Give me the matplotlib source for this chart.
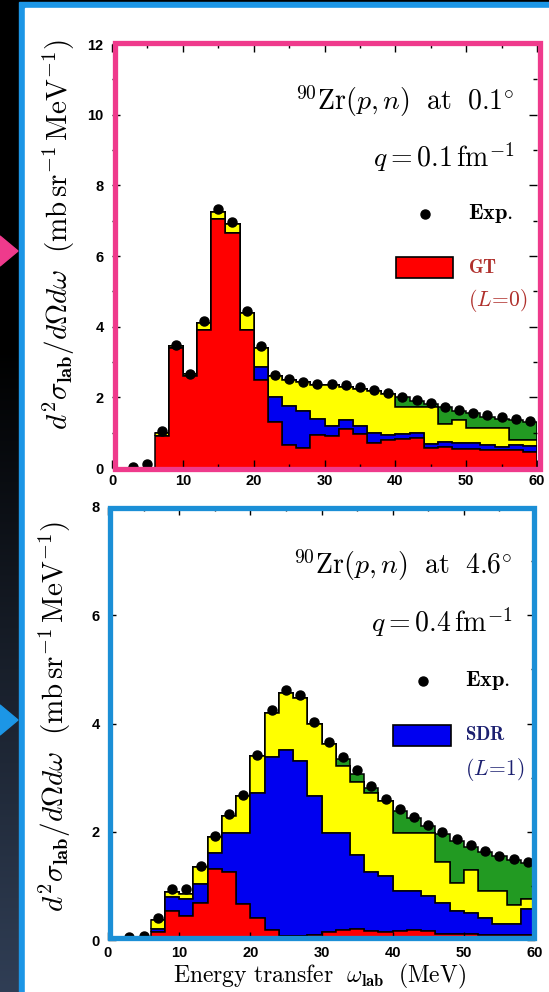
import numpy as np
import matplotlib.pyplot as plt
from matplotlib.patches import Rectangle, Polygon

plt.rcParams['mathtext.fontset'] = 'cm'
plt.rcParams['font.family'] = 'Liberation Sans'
plt.rcParams['font.weight'] = 'bold'

W, H = 549, 992

# histogram bins (MeV), 2 MeV wide from 6 to 60
edges = np.arange(6, 62, 2)
exp_x = np.arange(3, 61, 2)

# 0.1 deg panel: components stacked GT / SDR / other / quasi-free
gt_01 = [0.9, 3.4, 2.6, 3.9, 7.05, 6.65, 3.9, 2.5, 1.3, 0.65, 0.58, 0.92, 0.9, 1.1,
         0.95, 0.72, 0.8, 0.82, 0.85, 0.56, 0.6, 0.55, 0.55, 0.5, 0.5, 0.5, 0.45]
sdr_01 = [0, 0, 0, 0, 0, 0, 0, 0.35, 0.7, 1.1, 1.02, 0.48, 0.28, 0.26,
          0.25, 0.26, 0.13, 0.13, 0.15, 0.11, 0.15, 0.15, 0.15, 0.15, 0.1, 0.15, 0.17]
oth_01 = [0.1, 0.05, 0.05, 0.2, 0.2, 0.25, 0.5, 0.55, 0.6, 0.75, 0.82, 0.96, 1.17, 0.94,
          1.05, 1.2, 1.17, 0.79, 0.74, 1.07, 0.5, 0.65, 0.43, 0.48, 0.53, 0.15, 0.18]
qf_01 = [0, 0, 0, 0, 0, 0, 0, 0, 0, 0, 0, 0, 0, 0,
         0, 0, 0, 0.26, 0.16, 0.06, 0.47, 0.25, 0.42, 0.32, 0.27, 0.55, 0.5]
exp_01 = [0.02, 0.12, 1.05, 3.48, 2.67, 4.15, 7.32, 6.95, 4.45, 3.45, 2.62, 2.52, 2.43,
          2.37, 2.37, 2.35, 2.28, 2.22, 2.13, 2.02, 1.93, 1.83, 1.73, 1.65, 1.57,
          1.5, 1.45, 1.4, 1.32]

# 4.6 deg panel
gt_46 = [0.15, 0.53, 0.45, 0.69, 1.31, 1.25, 0.66, 0.41, 0.19, 0.08, 0.08, 0.1, 0.15, 0.18,
         0.2, 0.16, 0.14, 0.16, 0.18, 0.16, 0.12, 0.12, 0.12, 0.1, 0.1, 0.1, 0.1]
sdr_46 = [0.05, 0.27, 0.31, 0.34, 0.29, 0.72, 1.31, 2.31, 3.2, 3.43, 3.23, 2.56, 1.82, 1.79,
          1.37, 1.09, 1.05, 0.74, 0.72, 0.66, 0.57, 0.41, 0.38, 0.3, 0.2, 0.2, 0.47]
oth_46 = [0.17, 0.08, 0.09, 0.31, 0.3, 0.33, 0.69, 0.68, 0.81, 1.05, 1.16, 1.34, 1.66, 1.25,
          1.35, 1.47, 1.37, 1.07, 1.07, 1.15, 0.75, 0.52, 0.8, 0.5, 0.6, 0.35, 0.18]
qf_46 = [0, 0, 0, 0, 0, 0, 0, 0, 0, 0, 0, 0, 0, 0.12,
         0.14, 0.09, 0, 0.41, 0.28, 0.13, 0.52, 0.77, 0.42, 0.72, 0.65, 0.83, 0.67]
exp_46 = [0.05, 0.08, 0.41, 0.95, 0.95, 1.37, 1.93, 2.33, 2.68, 3.42, 4.25, 4.62, 4.52,
          4.02, 3.66, 3.38, 3.14, 2.85, 2.6, 2.42, 2.28, 2.13, 2.0, 1.86, 1.75, 1.64,
          1.56, 1.5, 1.45]

RED, BLUE, YELLOW, GREEN = '#ff0000', '#0000f0', '#ffff00', '#229a22'


def px(x0, y0, x1, y1):
    return [x0 / W, 1 - y1 / H, (x1 - x0) / W, (y1 - y0) / H]


fig = plt.figure(figsize=(W / 100, H / 100), dpi=100)

# background, frame and arrows in pixel coordinates
bg = fig.add_axes([0, 0, 1, 1])
bg.set_xlim(0, W)
bg.set_ylim(H, 0)
bg.axis('off')
grad = np.clip((np.linspace(0, 1, H) - 0.35) / 0.65, 0, 1)[:, None, None]
top_c = np.array([0, 0, 0])
bot_c = np.array([0x30, 0x3e, 0x55]) / 255
bg.imshow(top_c + grad * (bot_c - top_c), extent=(0, W, H, 0), aspect='auto')
bg.add_patch(Rectangle((19, 2), W, H, color='#1c96e6'))
bg.add_patch(Rectangle((25, 8), W, H, color='white'))
bg.add_patch(Polygon([(0, 236), (18, 251), (0, 266)], color='#ef3a8c'))
bg.add_patch(Polygon([(0, 705), (18, 720), (0, 735)], color='#1c96e6'))


def panel(rect, gt, sdr, oth, qf, exp, ymax, title, qtext, name, lbl, box, lcol, ylab_y):
    ax = fig.add_axes(rect)
    layers = np.cumsum([gt, sdr, oth, qf], axis=0)
    bases = [np.zeros(len(gt)), layers[0], layers[1], layers[2]]
    for top, base, col in list(zip(layers, bases, [RED, BLUE, YELLOW, GREEN]))[::-1]:
        ax.stairs(top, edges, baseline=base, fill=True, facecolor=col,
                  edgecolor='black', lw=1.1)
    ax.plot(exp_x, exp, 'o', color='black', ms=6.5, zorder=5)
    ax.set_xlim(0, 60)
    ax.set_ylim(0, ymax)
    ax.set_xticks(range(0, 61, 10))
    ax.set_xticks(range(5, 60, 10), minor=True)
    ax.set_yticks(range(0, ymax + 1, 2))
    ax.set_yticks(range(1, ymax, 2), minor=True)
    ax.tick_params(which='both', direction='in', top=True, right=True, width=1,
                   labelsize=10.5, pad=6)
    ax.tick_params(axis='x', which='both', pad=4)
    ax.tick_params(which='major', length=6)
    ax.tick_params(which='minor', length=3)
    for s in ax.spines.values():
        s.set_visible(False)
    u = ymax / 12
    ax.text(56.8, ymax - 1.62 * u, title, ha='right', va='center', fontsize=20)
    ax.text(56.8, ymax - 3.2 * u, qtext, ha='right', va='center', fontsize=20)
    ax.plot([44.2], [ymax - 4.81 * u], 'o', color='black', ms=6.5)
    ax.text(50.2, ymax - 4.81 * u, r'$\mathbf{Exp.}$', ha='left', va='center', fontsize=16)
    lrect_y = ymax - 6.33 * u
    ax.add_patch(Rectangle((40.1, lrect_y - 0.3 * u), 8.1, 0.6 * u, facecolor=name[1],
                           edgecolor='black', lw=1.2))
    ax.text(50.2, lrect_y, name[0], ha='left', va='center', fontsize=13.5, color=lcol)
    ax.text(50.2, lrect_y - 0.94 * u, lbl, ha='left', va='center', fontsize=15.5, color=lcol)
    ax.text(-0.125, ylab_y, r'$d^2\sigma_{\mathbf{lab}}/d\Omega d\omega\ \ '
            r'(\mathrm{mb\,sr^{-1}\,MeV^{-1}})$', transform=ax.transAxes,
            rotation=90, ha='center', va='center', fontsize=21)
    bg_box = Rectangle((box[0] / W, 1 - box[3] / H), (box[2] - box[0]) / W,
                       (box[3] - box[1]) / H, transform=fig.transFigure,
                       fill=False, edgecolor=box[4], lw=3.8, zorder=10)
    fig.add_artist(bg_box)
    return ax


panel(px(112, 44, 537, 468), gt_01, sdr_01, oth_01, qf_01, exp_01, 12,
      r'$^{90}\mathrm{Zr}(p,n)\ \ \mathrm{at}\ \ 0.1^{\circ}$',
      r'$q=0.1\,\mathrm{fm}^{-1}$',
      (r'$\mathbf{GT}$', RED), r'$(L\!=\!0)$',
      (115, 43, 540, 469, '#ef3a8c'), '#b0302c', 0.55)

panel(px(108, 507, 535, 940), gt_46, sdr_46, oth_46, qf_46, exp_46, 8,
      r'$^{90}\mathrm{Zr}(p,n)\ \ \mathrm{at}\ \ 4.6^{\circ}$',
      r'$q=0.4\,\mathrm{fm}^{-1}$',
      (r'$\mathbf{SDR}$', BLUE), r'$(L\!=\!1)$',
      (110, 508, 534, 938, '#1b8fd6'), '#1c2070', 0.515)

fig.text(320 / W, 1 - 976 / H,
         r'$\mathrm{Energy\ transfer}\ \ \omega_{\mathbf{lab}}\ \ \mathrm{(MeV)}$',
         ha='center', va='center', fontsize=17)

fig.savefig('out.png', dpi=100)
